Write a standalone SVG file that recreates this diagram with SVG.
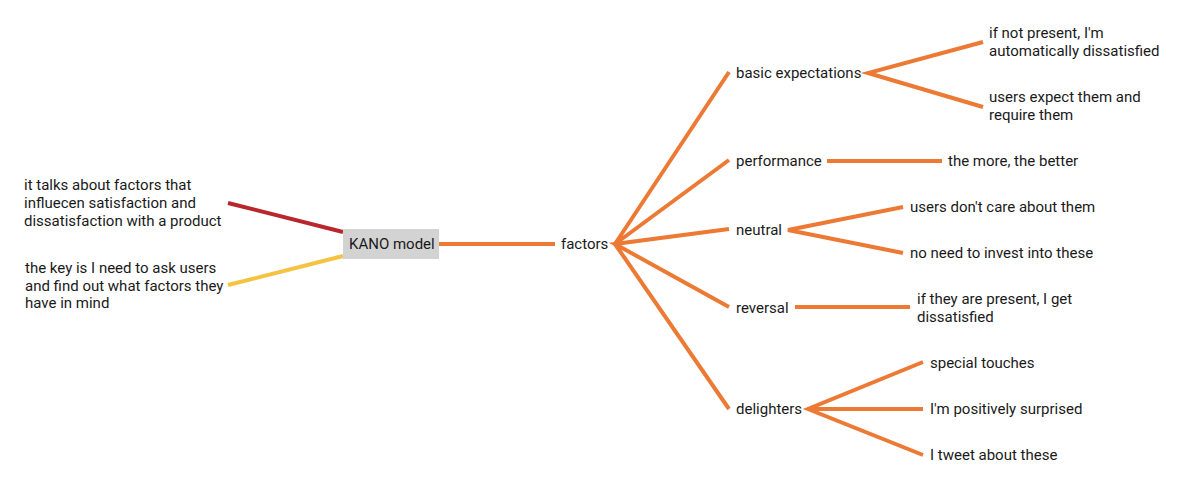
<svg xmlns="http://www.w3.org/2000/svg" width="1184" height="488" viewBox="0 0 1184 488">
<style>
text{font-family:Roboto,"Liberation Sans",sans-serif;font-size:15px;fill:#1a1a1a}
.c{fill:none;stroke-width:4;stroke-linecap:butt}
.o{stroke:#EC7A35}
.r{stroke:#B7282E}
.y{stroke:#F5C242}
</style>
<rect width="1184" height="488" fill="#fff"/>
<g id="connectors">
<line class="c r" x1="228" y1="203" x2="343" y2="232"/>
<line class="c y" x1="228" y1="285" x2="343" y2="256"/>
<line class="c o" x1="439" y1="244" x2="555" y2="244"/>
<polyline class="c o" points="729,72 615,244 729,160"/>
<polyline class="c o" points="729,229 615,244 729,307"/>
<polyline class="c o" points="615,244 729,409"/>
<polyline class="c o" points="983,42 868,73 983,107"/>
<line class="c o" x1="827" y1="161" x2="942" y2="161"/>
<polyline class="c o" points="903,207 788,230 903,253"/>
<line class="c o" x1="795" y1="307" x2="910" y2="307"/>
<polyline class="c o" points="923,362 808,409 923,455"/>
<line class="c o" x1="808" y1="409" x2="923" y2="409"/>
</g>
<g id="n-kano"><rect x="343" y="229" width="96" height="30" fill="#D3D3D3"/><text x="349" y="249">KANO model</text></g>
<g id="n-note1"><text x="24" y="190">it talks about factors that</text><text x="24" y="208">influecen satisfaction and</text><text x="24" y="226">dissatisfaction with a product</text></g>
<g id="n-note2"><text x="25" y="273">the key is I need to ask users</text><text x="25" y="291">and find out what factors they</text><text x="25" y="308">have in mind</text></g>
<g id="n-factors"><text x="561" y="249">factors</text></g>
<g id="n-basic"><text x="736" y="78">basic expectations</text></g>
<g id="n-basic1"><text x="989" y="38">if not present, I'm</text><text x="989" y="56">automatically dissatisfied</text></g>
<g id="n-basic2"><text x="989" y="102">users expect them and</text><text x="989" y="120">require them</text></g>
<g id="n-perf"><text x="736" y="166">performance</text></g>
<g id="n-perf1"><text x="948" y="166">the more, the better</text></g>
<g id="n-neutral"><text x="736" y="235">neutral</text></g>
<g id="n-neutral1"><text x="910" y="212">users don't care about them</text></g>
<g id="n-neutral2"><text x="910" y="258">no need to invest into these</text></g>
<g id="n-reversal"><text x="736" y="313">reversal</text></g>
<g id="n-reversal1"><text x="917" y="304">if they are present, I get</text><text x="917" y="322">dissatisfied</text></g>
<g id="n-delight"><text x="736" y="414">delighters</text></g>
<g id="n-delight1"><text x="930" y="368">special touches</text></g>
<g id="n-delight2"><text x="930" y="414">I'm positively surprised</text></g>
<g id="n-delight3"><text x="930" y="460">I tweet about these</text></g>
</svg>
